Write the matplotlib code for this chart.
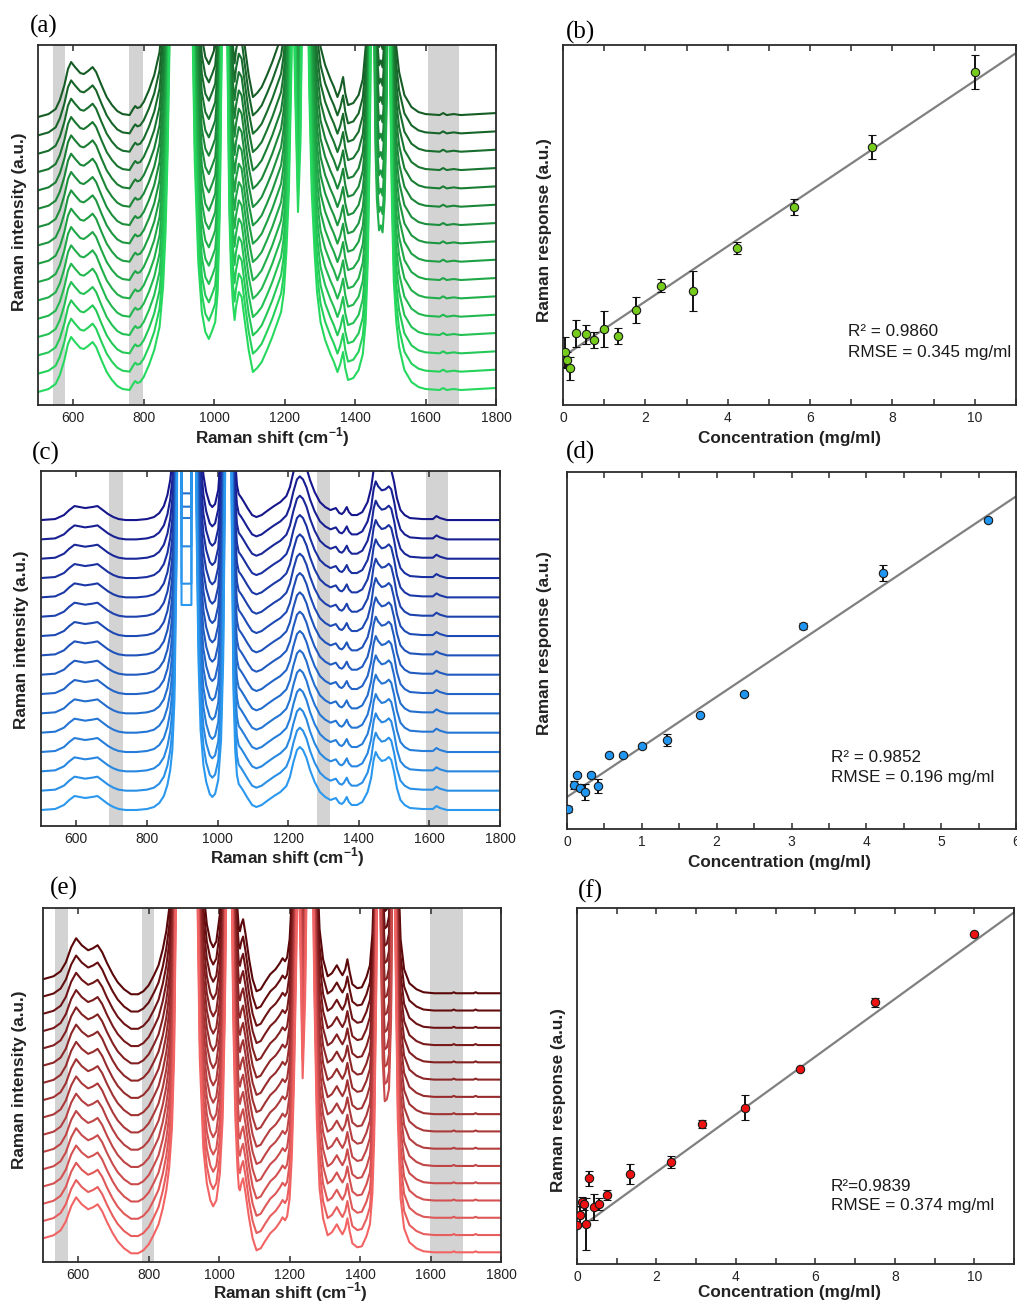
import numpy as np
import matplotlib
matplotlib.use('Agg')
import matplotlib.pyplot as plt
from matplotlib.ticker import MultipleLocator
from matplotlib.colors import to_rgb

plt.rcParams['font.family'] = ['Liberation Sans', 'DejaVu Sans']
plt.rcParams['mathtext.fontset'] = 'custom'
plt.rcParams['mathtext.rm'] = 'Liberation Sans'
plt.rcParams['mathtext.bf'] = 'Liberation Sans:bold'

# ---------------- spectra data (intensity above each curve's own baseline) -------------
shift_a = [500, 530, 550, 562, 575, 585, 594, 605, 620, 630,
           642, 655, 665, 680, 695, 710, 725, 740, 760, 770,
           776, 782, 790, 800, 815, 830, 845, 855, 862, 868,
           874, 880, 890, 905, 920, 930, 937, 945, 955, 965,
           975, 985, 995, 1003, 1010, 1016, 1022, 1030, 1037, 1043,
           1048, 1053, 1058, 1062, 1070, 1078, 1088, 1098, 1110, 1122,
           1135, 1150, 1165, 1175, 1182, 1190, 1198, 1205, 1212, 1218,
           1224, 1230, 1238, 1245, 1252, 1258, 1264, 1270, 1277, 1285,
           1292, 1302, 1315, 1330, 1340, 1350, 1358, 1366, 1372, 1380,
           1395, 1410, 1422, 1430, 1436, 1442, 1448, 1453, 1458, 1462,
           1468, 1473, 1478, 1484, 1490, 1495, 1500, 1505, 1510, 1517,
           1525, 1540, 1560, 1580, 1600, 1640, 1650, 1660, 1680, 1700,
           1800]
base_a = [0, 3, 8, 17, 32, 48, 55, 50, 44, 43,
          46, 50, 45, 32, 20, 12, 6, 3, 2, 8,
          11, 9, 10, 15, 27, 42, 65, 105, 160, 240,
          360, 600, 900, 900, 900, 700, 400, 230, 130, 80,
          60, 53, 62, 70, 100, 180, 360, 700, 360, 180,
          120, 90, 72, 85, 100, 95, 68, 42, 20, 24,
          30, 42, 55, 65, 72, 80, 100, 140, 200, 300,
          420, 300, 180, 250, 450, 600, 450, 300, 200, 140,
          100, 70, 52, 38, 30, 20, 28, 40, 24, 12,
          14, 22, 38, 70, 130, 250, 500, 300, 150, 100,
          70, 75, 68, 100, 200, 450, 300, 180, 110, 70,
          45, 22, 10, 5, 3, 2, 4, 2, 3, 2,
          4]
extra_shift_a = [1453, 1458, 1462, 1468, 1473, 1478, 1484, 1490]
extra_a = [100, 250, 320, 400, 420, 400, 330, 200]
weights_a = [1, 1, 1, 1, 1, 0, 0, 0, 0, 0, 0, 0, 0, 0, 0, 0]   # bottom -> top

shift_c = [500, 540, 565, 580, 595, 610, 625, 645, 660, 675,
           690, 705, 720, 740, 770, 800, 820, 835, 848, 858,
           866, 872, 878, 884, 890, 896, 898, 905, 912, 919,
           926, 928, 935, 940, 946, 952, 960, 968, 978, 985,
           993, 1002, 1010, 1016, 1022, 1028, 1034, 1040, 1045, 1050,
           1055, 1060, 1068, 1075, 1085, 1098, 1110, 1125, 1140, 1160,
           1178, 1195, 1205, 1215, 1225, 1233, 1242, 1252, 1262, 1275,
           1290, 1305, 1320, 1335, 1345, 1352, 1358, 1366, 1372, 1380,
           1395, 1410, 1425, 1435, 1442, 1448, 1455, 1465, 1475, 1485,
           1492, 1500, 1508, 1518, 1530, 1545, 1580, 1610, 1620, 1630,
           1650, 1800]
base_c = [0, 1, 5, 10, 14, 13, 12, 13, 14, 10,
          6, 3, 1, 0, 0, 1, 3, 7, 14, 25,
          40, 60, 110, 250, 600, 900, 900, 900, 900, 900,
          900, 900, 600, 300, 150, 80, 45, 28, 16, 13,
          16, 30, 70, 150, 350, 700, 600, 300, 120, 60,
          35, 26, 22, 18, 12, 5, 3, 5, 9, 14,
          18, 24, 33, 48, 60, 63, 60, 52, 40, 28,
          18, 13, 10, 12, 7, 6, 8, 13, 8, 5,
          5, 8, 18, 32, 50, 58, 53, 49, 50, 53,
          50, 38, 22, 10, 5, 2, 1, 1, 4, 2,
          0, 0]
# flat saturated segment (898-926 cm-1), bottom -> top
plateau_c = [205, 207, 225, 234, 226, 220, 224] + [np.nan] * 9

shift_e = [500, 530, 550, 565, 580, 594, 610, 628, 642, 655,
           668, 682, 698, 712, 730, 750, 770, 785, 800, 815,
           828, 840, 850, 858, 866, 872, 878, 884, 895, 920,
           930, 936, 945, 955, 965, 975, 983, 992, 1002, 1010,
           1016, 1022, 1028, 1034, 1040, 1046, 1052, 1056, 1059, 1063,
           1068, 1075, 1085, 1095, 1106, 1118, 1130, 1145, 1160, 1172,
           1180, 1187, 1193, 1200, 1206, 1212, 1218, 1224, 1230, 1237,
           1244, 1252, 1258, 1264, 1270, 1277, 1285, 1295, 1308, 1320,
           1334, 1343, 1350, 1358, 1364, 1370, 1378, 1392, 1405, 1418,
           1428, 1435, 1440, 1446, 1452, 1458, 1464, 1470, 1476, 1482,
           1488, 1494, 1500, 1507, 1515, 1525, 1540, 1560, 1580, 1610,
           1660, 1666, 1672, 1722, 1728, 1734, 1800]
base_e = [0, 3, 8, 17, 32, 41, 34, 29, 31, 34,
          27, 16, 5, -3, -10, -15, -15, -12, -6, 4,
          14, 30, 48, 70, 110, 180, 350, 600, 900, 900,
          700, 400, 180, 90, 55, 38, 32, 38, 65, 120,
          220, 400, 700, 400, 220, 120, 70, 50, 48, 55,
          60, 45, 20, 0, -12, -10, -3, 5, 10, 16,
          21, 18, 22, 40, 80, 150, 260, 400, 300, 160,
          240, 450, 600, 420, 250, 120, 50, 20, 3, 6,
          14, 8, 4, 10, 20, 8, -5, -9, -8, 2,
          14, 45, 100, 250, 500, 250, 110, 68, 70, 80,
          150, 450, 300, 120, 40, 10, -4, -10, -13, -14,
          -14, -13, -14, -14, -13, -14, -14]
extra_shift_e = [1452, 1458, 1464, 1470, 1476, 1482, 1488]
extra_e = [50, 200, 300, 400, 400, 350, 250]
weights_e = [1, 1, 1, 1, 0, 0, 0, 0, 0, 0, 0, 0, 0, 0, 0, 0]   # bottom -> top

bands_a = [(543, 578), (759, 799), (1606, 1696)]
bands_c = [(694, 732), (1281, 1319), (1591, 1654)]
bands_e = [(535, 571), (782, 814), (1599, 1693)]
shift_ticks = [600, 800, 1000, 1200, 1400, 1600, 1800]

# ---------------- calibration data ----------------
conc_b = [0.06, 0.10, 0.18, 0.32, 0.56, 0.75, 1.00, 1.33, 1.78, 2.37, 3.16, 4.22, 5.62, 7.50, 10.0]
resp_b = [1.60, 1.35, 1.10, 2.15, 2.12, 1.95, 2.27, 2.08, 2.85, 3.58, 3.42, 4.72, 5.93, 7.73, 9.98]
err_b = [0.45, 0.25, 0.35, 0.40, 0.28, 0.24, 0.54, 0.24, 0.39, 0.19, 0.59, 0.18, 0.25, 0.36, 0.50]
fit_b = (0.827, 1.45)   # slope, intercept

conc_d = [0.01, 0.10, 0.14, 0.18, 0.24, 0.32, 0.42, 0.56, 0.75, 1.00, 1.34, 1.78, 2.37, 3.16, 4.22, 5.62]
resp_d = [0.60, 1.33, 1.63, 1.23, 1.10, 1.63, 1.30, 2.21, 2.21, 2.48, 2.68, 3.42, 4.06, 6.09, 7.68, 9.28]
err_d = [0.08, 0.12, 0.05, 0.05, 0.24, 0.05, 0.21, 0.05, 0.05, 0.05, 0.18, 0.04, 0.06, 0.08, 0.25, 0.06]
fit_d = (1.503, 0.96)

conc_f = [0.0, 0.084, 0.126, 0.185, 0.235, 0.31, 0.42, 0.55, 0.76, 1.33, 2.37, 3.15, 4.22, 5.62, 7.50, 10.0]
resp_f = [1.16, 1.48, 1.86, 1.80, 1.21, 2.58, 1.70, 1.80, 2.08, 2.71, 3.08, 4.20, 4.70, 5.85, 7.86, 9.93]
err_f = [0.0, 0.25, 0.15, 0.18, 0.78, 0.23, 0.39, 0.18, 0.15, 0.30, 0.18, 0.12, 0.38, 0.03, 0.13, 0.03]
fit_f = (0.867, 1.03)

stats_b = ['R\u00b2 = 0.9860', 'RMSE = 0.345 mg/ml']
stats_d = ['R\u00b2 = 0.9852', 'RMSE = 0.196 mg/ml']
stats_f = ['R\u00b2=0.9839', 'RMSE = 0.374 mg/ml']

# ---------------- figure ----------------
W, H = 1017, 1303
fig = plt.figure(figsize=(W / 100, H / 100), dpi=100)

SPINE = '#2b2b2b'


def ax_px(l, t, r, b):
    ax = fig.add_axes([l / W, 1 - b / H, (r - l) / W, (b - t) / H])
    for sp in ax.spines.values():
        sp.set_linewidth(1.3)
        sp.set_color(SPINE)
    ax.tick_params(axis='both', direction='in', top=True, bottom=True,
                   length=4, width=1.1, color=SPINE, labelsize=10,
                   labelcolor='#222222', pad=4)
    ax.tick_params(which='minor', direction='in', top=True, bottom=True,
                   length=4, width=1.1, color=SPINE)
    ax.set_yticks([])
    return ax


def place_labels(ax, box, xl, yl, xc, yc):
    l, t, r, b = box
    ax.set_xlabel(xl, fontsize=12.3, fontweight='bold', color='#222222')
    ax.set_ylabel(yl, fontsize=12.3, fontweight='bold', color='#222222')
    ax.xaxis.label.set_va('center')
    ax.yaxis.label.set_va('center')
    ax.xaxis.set_label_coords((xc[0] - l) / (r - l), (b - xc[1]) / (b - t))
    ax.yaxis.set_label_coords((yc[0] - l) / (r - l), (b - yc[1]) / (b - t))


def letter(x, y, s):
    fig.text(x / W, 1 - y / H, s, family=['Liberation Serif', 'DejaVu Serif'],
             fontsize=18, ha='left', va='center')


def spectra(box, shifts, base, ex_s, ex_v, weights, plateau, bottom, spacing,
            light, dark, bands, xc, yc):
    l, t, r, b = box
    ax = ax_px(*box)
    height = b - t
    for lo, hi in bands:
        ax.axvspan(lo, hi, color='#d3d3d3', lw=0, zorder=0)
    s = np.array(shifts, float)
    bv = np.array(base, float)
    ex = np.zeros_like(bv)
    if ex_s:
        ex[np.searchsorted(s, ex_s)] = ex_v
    n = len(weights)
    cl, cd = np.array(to_rgb(light)), np.array(to_rgb(dark))
    for i in range(n - 1, -1, -1):
        y = bv + weights[i] * ex
        if plateau is not None and not np.isnan(plateau[i]):
            m = (s >= 898) & (s <= 926)
            y = np.where(m, plateau[i], y)
        f = i / (n - 1)
        col = (1 - f) * cl + f * cd
        ax.plot(s, bottom + i * spacing + y, color=col, lw=1.5,
                solid_joinstyle='round', zorder=2)
    ax.set_xlim(500, 1800)
    ax.set_ylim(0, height)
    ax.set_xticks(shift_ticks)
    place_labels(ax, box, r'Raman shift (cm$^{\mathbf{-1}}$)',
                 'Raman intensity (a.u.)', xc, yc)
    return ax


def calib(box, conc, resp, err, fit, color, xmax, ymax, major, minor, stats, tpos, xc, yc):
    ax = ax_px(*box)
    xs = np.array([0, xmax])
    ax.plot(xs, fit[1] + fit[0] * xs, color='#808080', lw=1.6, zorder=1)
    ax.errorbar(conc, resp, yerr=err, fmt='o', ms=6, mfc=color, mec='#1a1a1a',
                mew=0.8, ecolor='#111111', elinewidth=1.4, capsize=2.8,
                capthick=1.4, zorder=3)
    ax.set_xlim(0, xmax)
    ax.set_ylim(0, ymax)
    ax.xaxis.set_major_locator(MultipleLocator(major))
    ax.xaxis.set_minor_locator(MultipleLocator(minor))
    ax.text(tpos[0], tpos[1], stats[0], transform=ax.transAxes, fontsize=12.3,
            va='center', ha='left', color='#1a1a1a')
    ax.text(tpos[0], tpos[2], stats[1], transform=ax.transAxes, fontsize=12.3,
            va='center', ha='left', color='#1a1a1a')
    place_labels(ax, box, 'Concentration (mg/ml)', 'Raman response (a.u.)', xc, yc)
    return ax


box_a = (38, 45, 496, 405)
box_b = (563, 45, 1016, 405)
box_c = (41, 471, 500, 826)
box_d = (567, 472, 1016, 829)
box_e = (43, 908, 501, 1262)
box_f = (577, 908, 1014, 1264)

spectra(box_a, shift_a, base_a, extra_shift_a, extra_a, weights_a, None,
        13, 18.33, '#26d95e', '#165c25', bands_a, (272, 437), (20, 222))
spectra(box_c, shift_c, base_c, [], [], [0] * 16, plateau_c,
        16, 19.33, '#2a98ee', '#16168c', bands_c, (287, 857), (22, 640))
spectra(box_e, shift_e, base_e, extra_shift_e, extra_e, weights_e, None,
        23.7, 17.27, '#f26464', '#5a0709', bands_e, (290, 1292), (20, 1080))

calib(box_b, conc_b, resp_b, err_b, fit_b, '#76cc1c', 11, 10.79, 2, 1,
      stats_b, (0.629, 0.203, 0.147), (790, 438), (544, 230))
calib(box_d, conc_d, resp_d, err_d, fit_d, '#2196f0', 6, 10.71, 1, 0.5,
      stats_d, (0.588, 0.199, 0.143), (780, 862), (545, 643))
calib(box_f, conc_f, resp_f, err_f, fit_f, '#ee1111', 11, 10.70, 2, 1,
      stats_f, (0.581, 0.219, 0.163), (790, 1292), (558, 1100))

letter(30, 26, '(a)')
letter(566, 32, '(b)')
letter(32, 453, '(c)')
letter(566, 452, '(d)')
letter(50, 888, '(e)')
letter(578, 891, '(f)')

fig.savefig('out.png', dpi=100)
